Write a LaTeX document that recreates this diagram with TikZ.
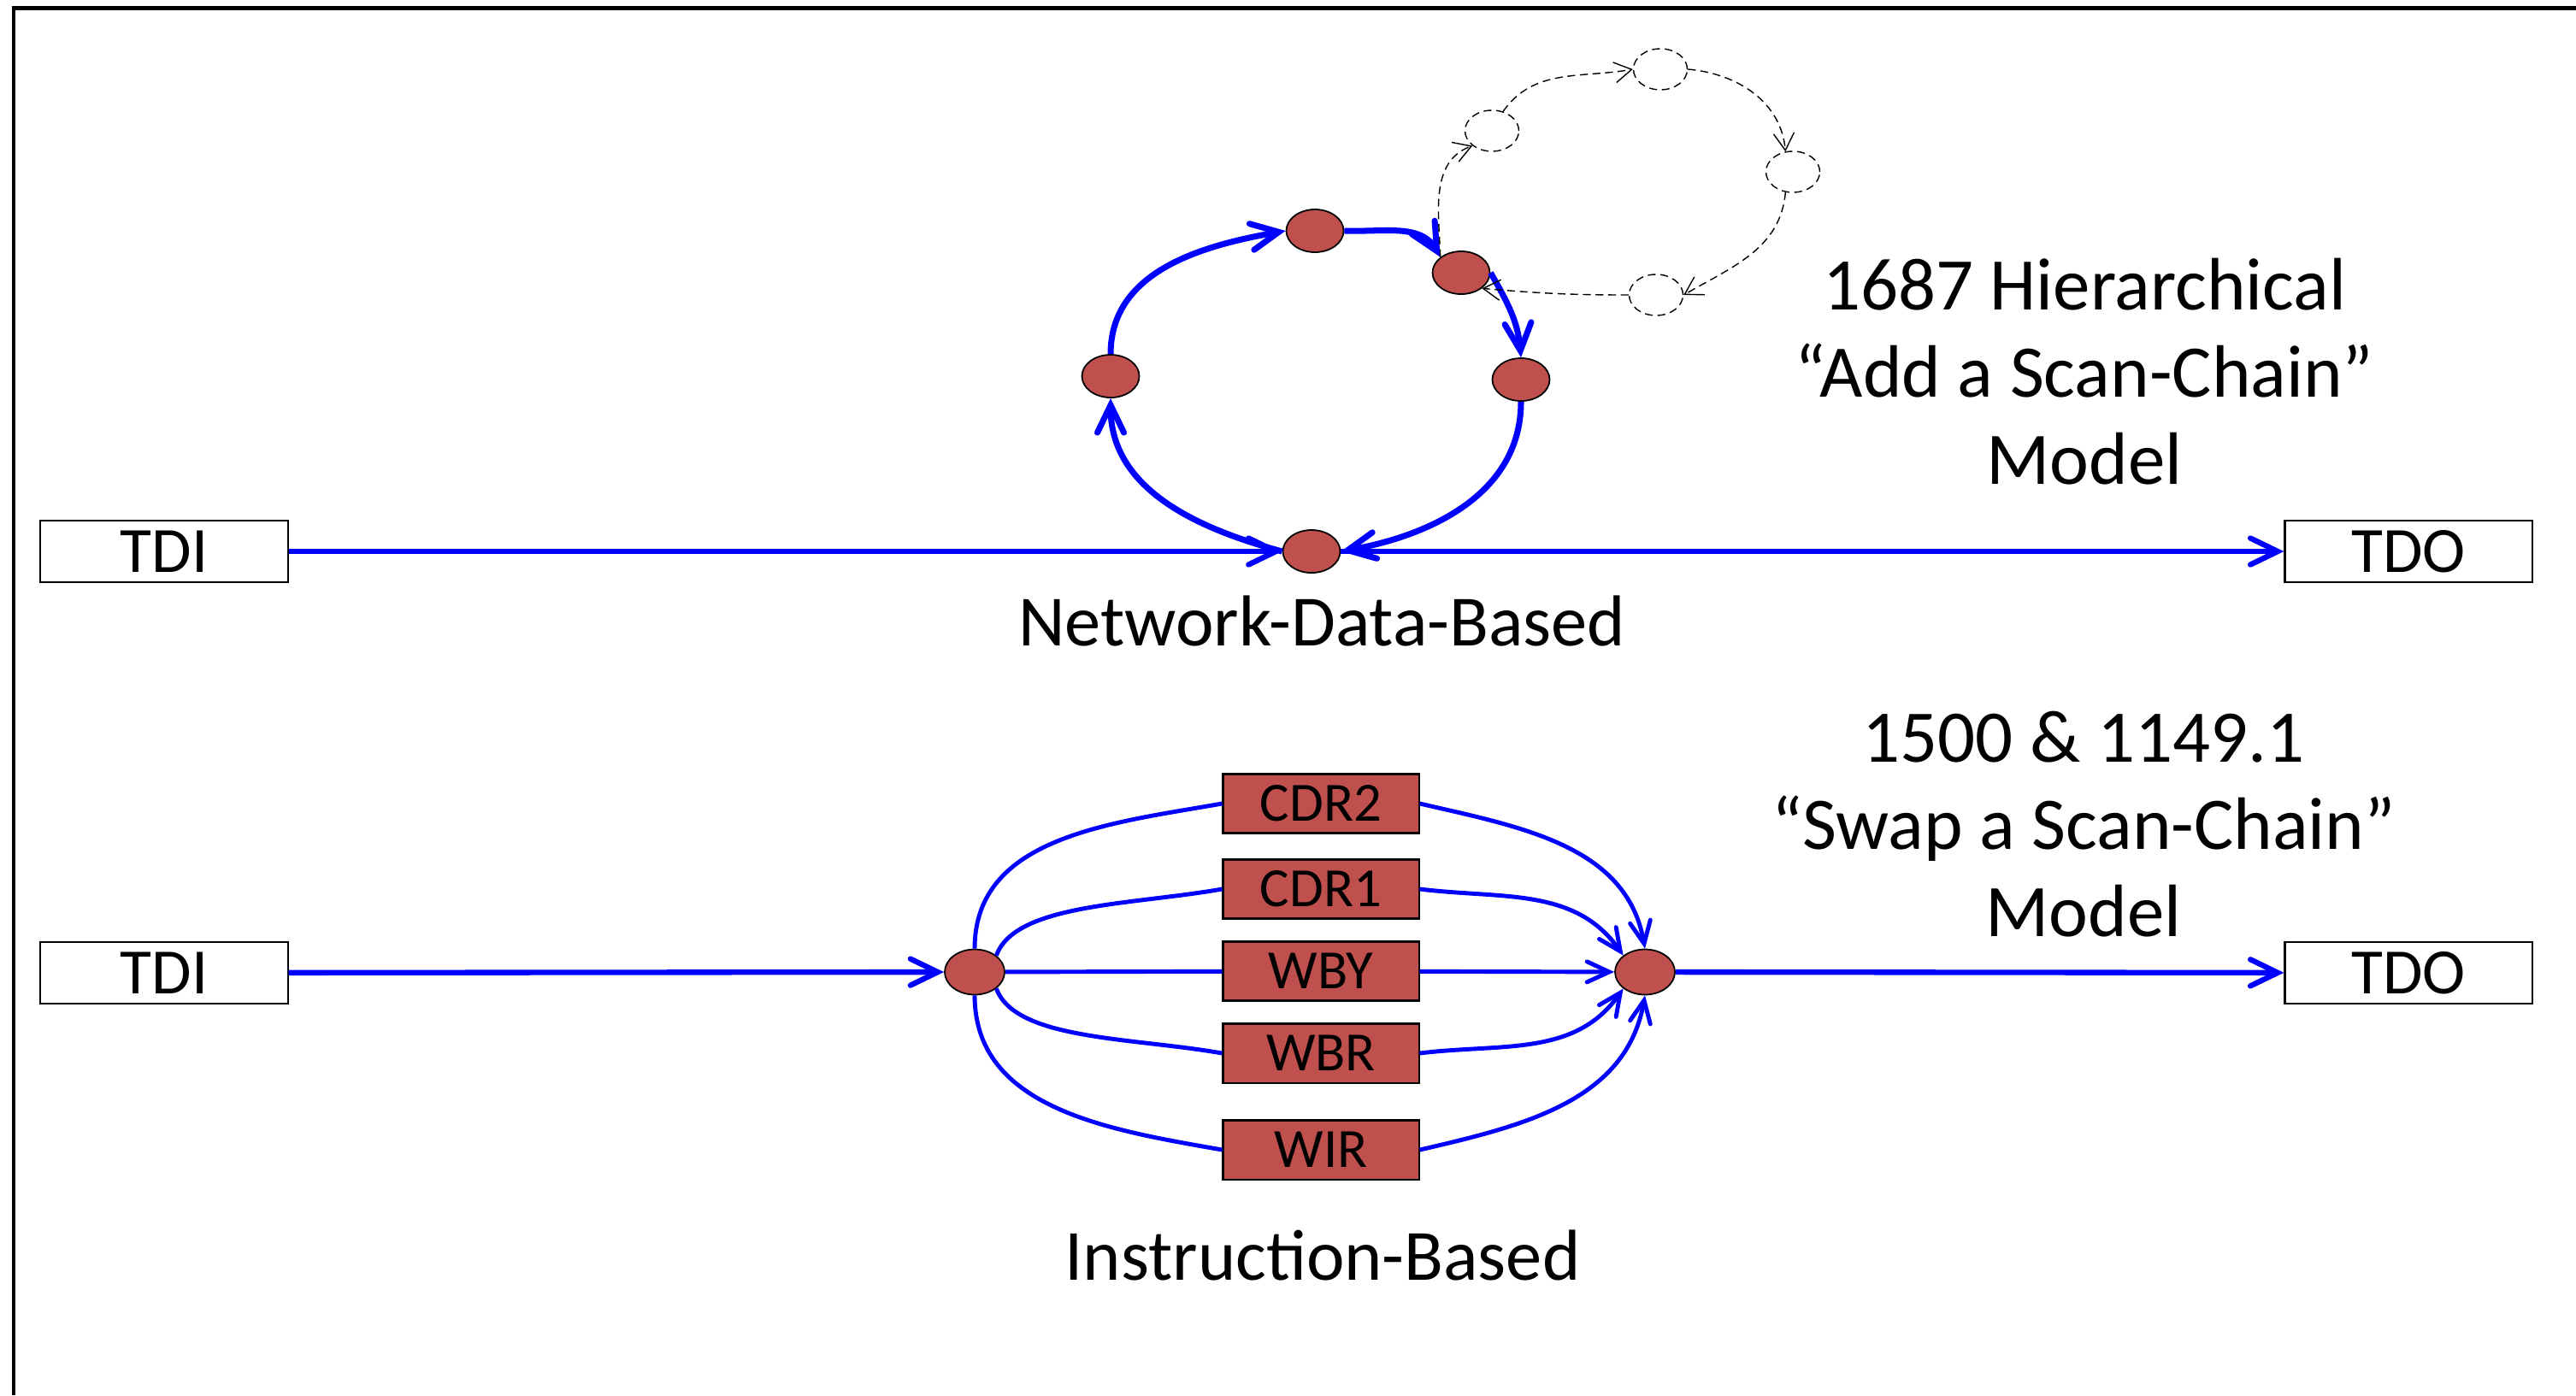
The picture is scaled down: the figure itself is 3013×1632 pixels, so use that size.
\documentclass[tikz,border=0pt]{standalone}
\usepackage{fontspec}
\setmainfont{Carlito}
\usepackage{xcolor}
\usepackage{tikz}
\usetikzlibrary{calc}
\usetikzlibrary{arrows.meta}
\usetikzlibrary{shapes.geometric}
\definecolor{regred}{HTML}{C0504D}

\begin{document}
\begin{tikzpicture}[x=0.01cm,y=-0.01cm]
  \tikzset{every node/.style={inner sep=0pt,text centered}};
  \tikzset{port/.style={rectangle,draw,line width=0.6pt,fill=white,minimum width=2.89cm,minimum height=0.72cm,font=\fontsize{21.5}{24}\selectfont}};
  \tikzset{seg/.style={ellipse,draw,line width=0.5pt,fill=regred,minimum width=0.67cm,minimum height=0.5cm}};
  \tikzset{hub/.style={seg,minimum width=0.7cm,minimum height=0.53cm}};
  \tikzset{ghost/.style={ellipse,draw,dash pattern=on 2.6pt off 1.6pt,line width=0.4pt,minimum width=0.63cm,minimum height=0.48cm}};
  \tikzset{reg/.style={rectangle,draw,line width=0.6pt,fill=regred,minimum width=2.29cm,minimum height=0.69cm,font=\fontsize{18.4}{20}\selectfont}};
  \tikzset{link/.style={draw=blue,line width=2pt}};
  \tikzset{chain/.style={link,-{Straight Barb[length=3.2mm,width=3.1mm,line cap=round]}}};
  \tikzset{thinlink/.style={draw=blue,line width=1.4pt}};
  \tikzset{thinchain/.style={thinlink,-{Straight Barb[length=2.6mm,width=2.4mm,line cap=round]}}};
  \tikzset{hop/.style={draw,dash pattern=on 2.6pt off 1.6pt,line width=0.4pt,-{Straight Barb[length=2mm,width=2.4mm]}}};
  \tikzset{modeltext/.style={align=center,font=\fontsize{24.7}{29}\selectfont}};
  \tikzset{kindtext/.style={anchor=base,font=\fontsize{24}{29}\selectfont}};
  \useasboundingbox (0,0) rectangle (3013,1632);
  \draw[line width=1.3pt] (16,1632) -- (16,9.5) -- (3013,9.5);
  % add a scan-chain
  \node [port] (tdia) at (192,645) {TDI};
  \node [port] (tdoa) at (2817,645) {TDO};
  \node [seg] (bot) at (1534,645) {};
  \node [seg] (left) at (1299,440) {};
  \node [seg] (top) at (1538,270) {};
  \node [seg] (upr) at (1709,319) {};
  \node [seg] (right) at (1779,444) {};
  \node [ghost] (ga) at (1745,153) {};
  \node [ghost] (gb) at (1942,81) {};
  \node [ghost] (gc) at (2097,201) {};
  \node [ghost] (gd) at (1937,345) {};
  \path[chain,line width=1.8pt] (tdia) -- (bot);
  \path[chain,line width=1.8pt] (bot) -- (tdoa);
  \path[chain] (bot.west) to[out=165,in=-90] (left.south);
  \path[chain] (left.north) to[out=90,in=190] (top.west);
  \path[chain] (top.east) to[out=-2,in=120] (upr.north west);
  \path[chain] (upr.east) to[out=-60,in=95] (right.north);
  \path[chain] (right.south) to[out=-90,in=10] (bot.east);
  \path[hop] (upr.north west) to[out=92,in=200] (ga.south west);
  \path[hop] (ga.60) to[out=55,in=190] (gb.west);
  \path[hop] (gb.east) to[out=-5,in=95] (gc.110);
  \path[hop] (gc.250) to[out=-95,in=30] (gd.east);
  \path[hop] (gd.west) to[out=180,in=-5] (upr.south east);
  \node [kindtext] (netdata) at (1546,755) {Network-Data-Based};
  \node [modeltext] (addmodel) at (2438,435) {1687 Hierarchical\\“Add a Scan-Chain”\\Model};
  % swap a scan-chain
  \node [port] (tdib) at (192,1138) {TDI};
  \node [port] (tdob) at (2817,1138) {TDO};
  \node [hub] (lhub) at (1140,1137) {};
  \node [hub] (rhub) at (1924,1137) {};
  \node [reg] (cdr2) at (1545,940) {CDR2};
  \node [reg] (cdr1) at (1545,1040) {CDR1};
  \node [reg] (wby) at (1545,1136) {WBY};
  \node [reg] (wbr) at (1545,1232) {WBR};
  \node [reg] (wir) at (1545,1345) {WIR};
  \path[chain,line width=1.8pt] (tdib) -- (lhub);
  \path[chain,line width=1.8pt] (rhub) -- (tdob);
  \path[thinlink] (lhub) -- (wby);
  \path[thinchain] (wby) -- (rhub);
  \path[thinlink] (lhub.north) to[out=90,in=190] (cdr2.west);
  \path[thinchain] (cdr2.east) to[out=-13,in=100] (rhub.north);
  \path[thinlink] (lhub.north east) to[out=70,in=190,out looseness=0.6] (cdr1.west);
  \path[thinchain] (cdr1.east) to[out=-7,in=125] (rhub.north west);
  \path[thinlink] (lhub.south east) to[out=-70,in=170,out looseness=0.6] (wbr.west);
  \path[thinchain] (wbr.east) to[out=7,in=-125] (rhub.south west);
  \path[thinlink] (lhub.south) to[out=-90,in=170] (wir.west);
  \path[thinchain] (wir.east) to[out=13,in=-100] (rhub.south);
  \node [kindtext] (instr) at (1547,1497) {Instruction-Based};
  \node [modeltext] (swapmodel) at (2437,964) {1500 \& 1149.1\\“Swap a Scan-Chain”\\Model};
\end{tikzpicture}
\end{document}
